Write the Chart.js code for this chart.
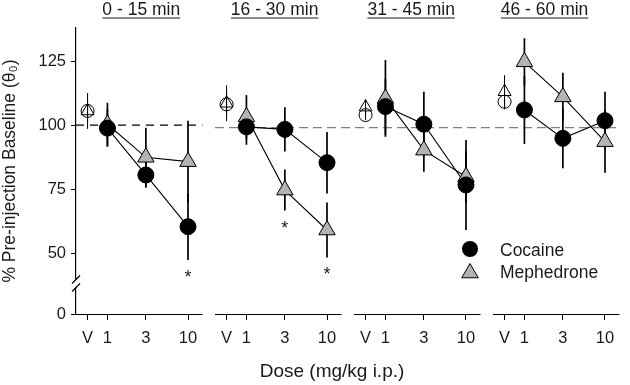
<!DOCTYPE html>
<html lang="en">
<head>
  <meta charset="UTF-8">
  <title>Cocaine vs mephedrone</title>
  <script src="https://cdn.jsdelivr.net/npm/chart.js@4.4.0/dist/chart.umd.min.js"></script>
  <style>
    html, body { margin: 0; padding: 0; background: #fff; }
    #wrap { width: 630px; height: 385px; }
  </style>
</head>
<body>
  <div id="wrap"><canvas id="graphic" width="630" height="385"></canvas></div>

  <script>
    // --- data ---
    const panelTitles = ['0 - 15 min', '16 - 30 min', '31 - 45 min', '46 - 60 min'];
    const doseLabels = ['V', '1', '3', '10'];
    const doseValues = [0.567, 1, 3, 10]; // V sits just left of 1 on the log axis

    // rows = time bins, columns = V, 1, 3, 10 mg/kg
    const cocaineMean = [
      [105.5, 98.8, 80.5, 60.3],
      [108.1, 99.3, 98.3, 85.3],
      [103.9, 107.2, 100.3, 76.6],
      [109.1, 105.9, 94.8, 101.7]
    ];
    const cocaineSem = [
      [4, 7.3, 5, 13],
      [4, 7, 8.6, 12],
      [2, 11, 12.7, 17.6],
      [3, 13.3, 11.7, 11.3]
    ];
    const mephedroneMean = [
      [105.5, 100.3, 87.4, 85.7],
      [108.5, 103.2, 74.6, 59],
      [107, 110.4, 90.2, 79.8],
      [113, 124.7, 111, 93.5]
    ];
    const mephedroneSem = [
      [7, 8.4, 11.5, 16],
      [7, 8.5, 8, 10.7],
      [3, 15, 8.4, 10],
      [6.5, 9.2, 9.4, 12.1]
    ];
    const starred = [[0, 3], [1, 2], [1, 3]]; // [panel, dose]
    const yTickLabels = [0, 50, 75, 100, 125];
    const baseline = [100, 99, 99, 99];

    // --- layout helpers ---
    const PANEL_GAP = 1.725;          // decades between panels
    const AXIS_FROM = -0.39, AXIS_TO = 1.18;
    const Y_ZERO = 26.2;               // where "0" sits below the axis break

    const xPos = (p, i) => p * PANEL_GAP + Math.log10(doseValues[i]);
    const yAxis = v => v >= 50 ? v : Y_ZERO + v * (50 - Y_ZERO) / 50;

    function linePoints(mean) {
      const pts = [];
      mean.forEach((row, p) => {
        for (let i = 1; i < row.length; i++) pts.push({ x: xPos(p, i), y: row[i] });
        pts.push({ x: p * PANEL_GAP + 1.1, y: null });
      });
      return pts;
    }
    function allPoints(mean) {
      const pts = [];
      mean.forEach((row, p) => row.forEach((v, i) => pts.push({ x: xPos(p, i), y: v })));
      return pts;
    }
    const isVehicle = ctx => ctx.dataIndex % 4 === 0;

    const FONT = "'Liberation Sans', Arial, sans-serif";
    const TXT = '#1a1a1a';

    const decor = {
      id: 'decor',
      beforeDatasetsDraw(chart) {
        const { ctx, scales: { x, y }, chartArea } = chart;
        ctx.save();
        // baseline dashed lines
        ctx.lineWidth = 1.3;
        ctx.strokeStyle = '#000';
        ctx.setLineDash([8, 6]);
        ctx.beginPath();
        ctx.moveTo(chartArea.left, y.getPixelForValue(baseline[0]));
        ctx.lineTo(x.getPixelForValue(AXIS_TO), y.getPixelForValue(baseline[0]));
        ctx.stroke();
        ctx.strokeStyle = '#808080';
        ctx.setLineDash([9, 5]);
        ctx.beginPath();
        ctx.moveTo(x.getPixelForValue(PANEL_GAP + AXIS_FROM), y.getPixelForValue(baseline[1]));
        ctx.lineTo(x.getPixelForValue(3 * PANEL_GAP + AXIS_TO), y.getPixelForValue(baseline[3]));
        ctx.stroke();
        ctx.setLineDash([]);

        // error bars
        ctx.strokeStyle = '#000';
        [[cocaineMean, cocaineSem], [mephedroneMean, mephedroneSem]].forEach(([m, s]) => {
          m.forEach((row, p) => row.forEach((v, i) => {
            const px = x.getPixelForValue(xPos(p, i));
            ctx.lineWidth = i === 0 ? 1 : 1.7;
            ctx.beginPath();
            ctx.moveTo(px, y.getPixelForValue(v + s[p][i]));
            ctx.lineTo(px, y.getPixelForValue(v - s[p][i]));
            ctx.stroke();
          }));
        });
        ctx.restore();
      },
      afterDraw(chart) {
        const { ctx, scales: { x, y }, chartArea } = chart;
        ctx.save();
        ctx.strokeStyle = '#000';
        ctx.fillStyle = TXT;

        // x axis, one segment per panel
        ctx.lineWidth = 1.2;
        const yb = chartArea.bottom + 0.5;
        panelTitles.forEach((t, p) => {
          ctx.beginPath();
          ctx.moveTo(p === 0 ? chartArea.left : x.getPixelForValue(p * PANEL_GAP + AXIS_FROM), yb);
          ctx.lineTo(x.getPixelForValue(p * PANEL_GAP + AXIS_TO), yb);
          ctx.stroke();
        });

        // axis break
        const yk = y.getPixelForValue(yAxis(25));
        const xl = chartArea.left;
        ctx.fillStyle = '#fff';
        ctx.fillRect(xl - 2, yk - 4, 4, 8);
        ctx.lineWidth = 1.2;
        ctx.beginPath();
        ctx.moveTo(xl - 4, yk); ctx.lineTo(xl + 4, yk - 8);
        ctx.moveTo(xl - 4, yk + 8); ctx.lineTo(xl + 4, yk);
        ctx.stroke();

        // panel titles (underlined)
        ctx.fillStyle = TXT;
        ctx.font = '17.5px ' + FONT;
        ctx.textAlign = 'center';
        ctx.textBaseline = 'alphabetic';
        const titleShift = [0.42, 0.35, 0.32, 0.25];
        panelTitles.forEach((t, p) => {
          const cx = x.getPixelForValue(p * PANEL_GAP + titleShift[p]);
          ctx.fillText(t, cx, 15);
          const w = ctx.measureText(t).width;
          ctx.lineWidth = 1;
          ctx.strokeStyle = TXT;
          ctx.beginPath();
          ctx.moveTo(cx - w / 2, 18);
          ctx.lineTo(cx + w / 2, 18);
          ctx.stroke();
        });

        // x title
        ctx.font = '19px ' + FONT;
        ctx.fillText('Dose (mg/kg i.p.)', 332, 377);

        // significance stars
        ctx.font = '18px ' + FONT;
        starred.forEach(([p, i]) => {
          const low = Math.min(cocaineMean[p][i] - cocaineSem[p][i], mephedroneMean[p][i] - mephedroneSem[p][i]);
          ctx.fillText('*', x.getPixelForValue(xPos(p, i)), y.getPixelForValue(low) + 23);
        });

        // legend
        ctx.strokeStyle = '#000';
        ctx.lineWidth = 1;
        ctx.fillStyle = '#000';
        ctx.beginPath();
        ctx.arc(470, 249, 8, 0, Math.PI * 2);
        ctx.fill();
        const r = 9.5, tx = 470, ty = 273;
        ctx.fillStyle = '#b3b3b3';
        ctx.beginPath();
        ctx.moveTo(tx, ty - r);
        ctx.lineTo(tx + r * Math.sin(2 * Math.PI / 3), ty + r / 2);
        ctx.lineTo(tx - r * Math.sin(2 * Math.PI / 3), ty + r / 2);
        ctx.closePath();
        ctx.fill();
        ctx.stroke();
        ctx.fillStyle = TXT;
        ctx.font = '17.5px ' + FONT;
        ctx.textAlign = 'left';
        ctx.fillText('Cocaine', 500, 256);
        ctx.fillText('Mephedrone', 500, 278);
        ctx.restore();
      }
    };

    new Chart(document.getElementById('graphic'), {
      type: 'line',
      data: {
        datasets: [
          {
            label: 'Cocaine line', data: linePoints(cocaineMean), order: 3,
            borderColor: '#000', borderWidth: 1.1, pointRadius: 0, spanGaps: false
          },
          {
            label: 'Mephedrone line', data: linePoints(mephedroneMean), order: 3,
            borderColor: '#000', borderWidth: 1.1, pointRadius: 0, spanGaps: false
          },
          {
            label: 'Cocaine', data: allPoints(cocaineMean), order: 1, showLine: false,
            pointStyle: 'circle',
            pointRadius: ctx => isVehicle(ctx) ? 6.5 : 8,
            pointBackgroundColor: ctx => isVehicle(ctx) ? 'rgba(255,255,255,0)' : '#000',
            pointBorderColor: '#000', pointBorderWidth: 1
          },
          {
            label: 'Mephedrone', data: allPoints(mephedroneMean), order: 2, showLine: false,
            pointStyle: 'triangle',
            pointRadius: ctx => isVehicle(ctx) ? 7.5 : 9.5,
            pointBackgroundColor: ctx => isVehicle(ctx) ? 'rgba(255,255,255,0)' : '#b3b3b3',
            pointBorderColor: '#000', pointBorderWidth: 1
          }
        ]
      },
      options: {
        responsive: false,
        animation: false,
        events: [],
        layout: { padding: { top: 28, right: 7, left: 0, bottom: 0 } },
        plugins: { legend: { display: false }, tooltip: { enabled: false } },
        scales: {
          x: {
            type: 'linear',
            min: AXIS_FROM,
            max: 3 * PANEL_GAP + AXIS_TO,
            afterBuildTicks: scale => {
              const ticks = [];
              panelTitles.forEach((t, p) => doseValues.forEach((d, i) => ticks.push({ value: xPos(p, i) })));
              scale.ticks = ticks;
            },
            afterFit: scale => { scale.height = 71; },
            ticks: {
              autoSkip: false, maxRotation: 0, minRotation: 0, padding: 9,
              color: TXT, font: { family: FONT, size: 16.5 },
              callback: (v, i) => doseLabels[i % 4]
            },
            grid: { drawOnChartArea: false, drawTicks: true, tickLength: 6, color: '#000', lineWidth: 1 },
            border: { display: false }
          },
          y: {
            type: 'linear',
            min: Y_ZERO,
            max: 137.9,
            afterBuildTicks: scale => {
              scale.ticks = yTickLabels.map(v => ({ value: yAxis(v) }));
            },
            afterFit: scale => { scale.width = 76; },
            ticks: {
              padding: 5, color: TXT, font: { family: FONT, size: 16.5 },
              callback: (v, i) => String(yTickLabels[i])
            },
            grid: { drawOnChartArea: false, drawTicks: true, tickLength: 5, color: '#000', lineWidth: 1 },
            border: { display: true, color: '#000', width: 1.2 },
            title: {
              display: true,
              text: '% Pre-injection Baseline (θ₀)',
              color: TXT,
              font: { family: FONT, size: 17.5 },
              padding: { top: 0, bottom: 0 }
            }
          }
        }
      },
      plugins: [decor]
    });
  </script>
</body>
</html>
